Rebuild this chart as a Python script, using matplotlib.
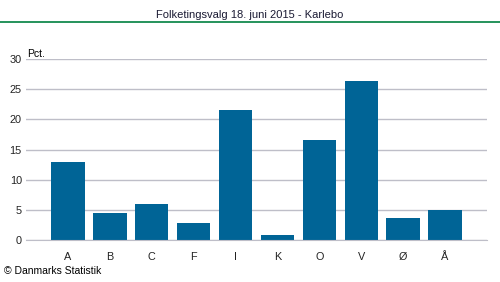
import matplotlib

matplotlib.use("Agg")
import matplotlib.pyplot as plt  # noqa: E402

plt.rcParams["font.family"] = ["Liberation Sans", "DejaVu Sans"]

# Party letters and vote share (pct.), Karlebo 2015
PARTIES = ["A", "B", "C", "F", "I", "K", "O", "V", "Ø", "Å"]
SHARES = [13.0, 4.5, 6.0, 2.8, 21.6, 0.8, 16.6, 26.4, 3.6, 5.0]
YTICKS = [0, 5, 10, 15, 20, 25, 30]

BAR_COLOR = "#006496"
GRID_COLOR = "#BEBEC8"

fig = plt.figure(figsize=(5.0, 2.82), dpi=100)
ax = fig.add_axes([0.052, 0.149, 0.922, 0.641])

x = list(range(len(PARTIES)))
ax.bar(x, SHARES, width=0.8, color=BAR_COLOR, zorder=2)

ax.set_xlim(-1, len(PARTIES))
ax.set_ylim(0, 30)
ax.set_yticks(YTICKS)
ax.set_xticks(x)
ax.set_xticklabels(PARTIES)
ax.yaxis.grid(True, color=GRID_COLOR, lw=1.0, zorder=1)
ax.set_axisbelow(True)
for side in ("top", "right", "left"):
    ax.spines[side].set_visible(False)
ax.spines["bottom"].set_color(GRID_COLOR)
ax.tick_params(axis="both", length=0, labelsize=7.8, colors="#222222")
ax.tick_params(axis="y", pad=3)
ax.tick_params(axis="x", pad=9)

ax.text(0.002, 1.0, "Pct.", transform=ax.transAxes, fontsize=7.5,
        ha="left", va="bottom")

# header: title and green rule
fig.text(0.5, 1 - 15 / 282, "Folketingsvalg 18. juni 2015 - Karlebo",
         ha="center", va="center", fontsize=8, color="#1a1a33")
fig.add_artist(plt.Line2D([0, 1], [1 - 22 / 282] * 2, color="#008040", lw=1.2,
                          transform=fig.transFigure))

fig.text(0.008, 1 - 271 / 282, "© Danmarks Statistik", ha="left", va="center",
         fontsize=7.5)

fig.savefig("out.png", dpi=100)
